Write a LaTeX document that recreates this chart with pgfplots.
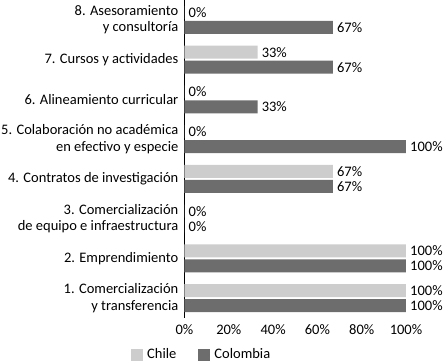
\documentclass[border=0pt]{standalone}
\usepackage{pgfplots}
\pgfplotsset{compat=1.18}
\usepackage{fontspec}
\setmainfont{Carlito}
\definecolor{chile}{HTML}{CDCDCD}
\definecolor{colom}{HTML}{6D6D6D}
\begin{document}
\begin{tikzpicture}[font=\fontsize{14.5}{16.5}\selectfont]
\begin{axis}[
  at={(184.5pt,0pt)}, anchor=north west,
  scale only axis, width=221.5pt, height=318pt,
  xmin=0, xmax=100, ymin=0.5, ymax=8.5,
  xbar, bar width=13pt,
  axis lines=left,
  x axis line style={draw=none},
  y axis line style={-, black, line width=0.8pt},
  major tick length=0pt,
  xtick={0,20,...,100},
  xticklabel={\pgfmathprintnumber{\tick}\%},
  xticklabel style={yshift=-3pt},
  ytick={1,...,8},
  yticklabels={{1. Comercialización\\y transferencia},{2. Emprendimiento},{3. Comercialización\\de equipo e infraestructura},{4. Contratos de investigación},{5. Colaboración no académica\\en efectivo y especie},{6. Alineamiento curricular},{7. Cursos y actividades},{8. Asesoramiento\\y consultoría}},
  yticklabel style={align=right, inner sep=0pt, xshift=-6pt},
  /pgf/number format/assume math mode=true,
  nodes near coords={\pgfmathprintnumber{\pgfplotspointmeta}\%},
  nodes near coords style={anchor=west, inner xsep=4pt, font=\fontsize{14.5}{16.5}\selectfont},
  legend style={draw=none, fill=none, at={(-0.255,-0.115)}, anchor=west, legend columns=2, font=\fontsize{14.5}{16.5}\selectfont, /tikz/every odd column/.append style={column sep=2pt}, /tikz/every even column/.append style={column sep=20pt}},
  legend image code/.code={\path[#1, draw=none] (0pt,-6pt) rectangle (12pt,6pt);},
]
\addplot[fill=chile, draw=none, bar shift=7.5pt] coordinates {(100,1) (100,2) (0,3) (67,4) (0,5) (0,6) (33,7) (0,8)};
\addplot[fill=colom, draw=none, bar shift=-7.5pt] coordinates {(100,1) (100,2) (0,3) (67,4) (100,5) (33,6) (67,7) (67,8)};
\legend{Chile, Colombia}
\end{axis}
\pgfresetboundingbox
\useasboundingbox (0,0) rectangle (448pt,-364pt);
\end{tikzpicture}
\end{document}
